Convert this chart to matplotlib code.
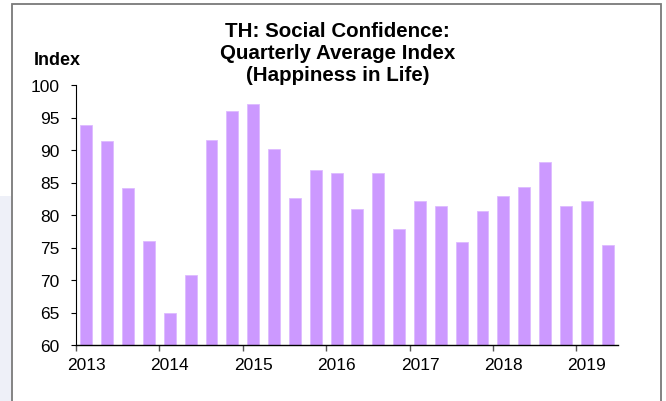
import matplotlib
matplotlib.use("Agg")
import matplotlib.pyplot as plt
from matplotlib.patches import Rectangle
import numpy as np

plt.rcParams['font.family'] = ['Liberation Sans', 'DejaVu Sans']

years = ["2013", "2014", "2015", "2016", "2017", "2018", "2019"]
values = [93.8, 91.4, 84.2, 76.0, 64.9, 70.8, 91.5, 96.0, 97.1, 90.2, 82.6, 87.0,
          86.5, 81.0, 86.5, 77.9, 82.1, 81.4, 75.9, 80.6, 83.0, 84.3, 88.2, 81.4,
          82.2, 75.4]
title = "TH: Social Confidence:\nQuarterly Average Index\n(Happiness in Life)"
ylabel = "Index"

W, H = 666, 402
fig = plt.figure(figsize=(W / 100, H / 100), dpi=100)

# faint watermark patch on the left edge
fig.patches.append(Rectangle((0, 0), 11 / W, 205 / H, transform=fig.transFigure,
                             facecolor='#eef0f8', edgecolor='none', zorder=0))
# outer frame
fig.patches.append(Rectangle((11.5 / W, -0.05), (661 - 11.5) / W, 1.05 - 5 / H,
                             transform=fig.transFigure, facecolor='none',
                             edgecolor='#7a7a7a', linewidth=1.3, zorder=1))

ax = fig.add_axes([76 / W, 1 - 346 / H, (618 - 76) / W, (346 - 86) / H])
x = np.arange(len(values))
ax.bar(x, values, width=0.57, color='#CC99FF', edgecolor='#ddbbff', linewidth=0.6,
       bottom=0)
ax.set_ylim(60, 100)
ax.set_xlim(-0.5, len(values) - 0.5)
ax.set_yticks(np.arange(60, 101, 5))
ax.tick_params(axis='y', direction='out', length=3.6, width=0.8, pad=8.4,
               labelsize=12.5, colors='black')

major = [-0.5 + 4 * i for i in range(len(years))]
ax.set_xticks(major)
ax.set_xticklabels([''] * len(major))
ax.tick_params(axis='x', which='major', direction='out', length=4.3, width=1.0,
               color='#555555')
ax.set_xticks([4 * i for i in range(len(years))], minor=True)
ax.set_xticklabels(years, minor=True)
ax.tick_params(axis='x', which='minor', length=0, pad=9, labelsize=12.5)

for s in ['top', 'right']:
    ax.spines[s].set_visible(False)
ax.spines['left'].set_linewidth(0.8)
ax.spines['bottom'].set_linewidth(1.0)

fig.text(337.5 / W, 1 - 22 / H, title, ha='center', va='top', fontsize=14.8,
         fontweight='bold', linespacing=1.2)
fig.text(57 / W, 1 - 52 / H, ylabel, ha='center', va='top', fontsize=13,
         fontweight='bold')

fig.savefig('out.png', dpi=100)
